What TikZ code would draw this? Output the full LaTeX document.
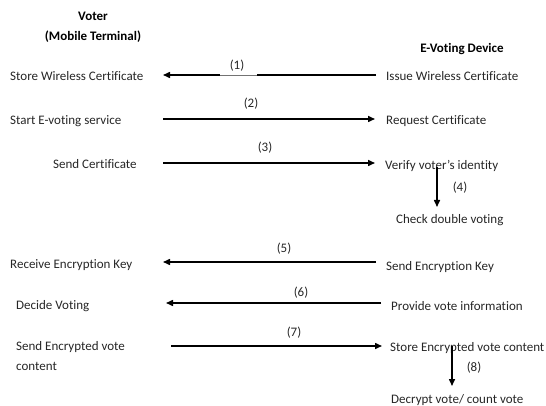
\documentclass[tikz,border=0pt]{standalone}
\usepackage{fontspec}
\setmainfont[Ligatures=CommonOff]{Carlito}
\usetikzlibrary{arrows.meta}
\begin{document}
\begin{tikzpicture}[x=1pt,y=1pt,
  lbl/.style={anchor=base west,inner sep=0pt,font=\fontsize{13}{20}\selectfont,text=black!85},
  hdr/.style={anchor=base,inner sep=0pt,font=\fontsize{13}{20}\selectfont\bfseries},
  num/.style={anchor=base,inner sep=0pt,font=\fontsize{13}{20}\selectfont,text=black!85},
  msg/.style={line width=1.5pt,-{Triangle[length=7pt,width=6pt]}}]
\useasboundingbox (0,0) rectangle (546,-406);
% headers
\node[hdr] (voter) at (93,-21) {Voter};
\node[hdr] (mobile) at (93,-41) {(Mobile Terminal)};
\node[hdr] (dev) at (462,-53) {E-Voting Device};
% left texts
\node[lbl] (store) at (10,-81) {Store Wireless Certificate};
\node[lbl] (start) at (10,-125) {Start E-voting service};
\node[lbl] (send) at (53,-169) {Send Certificate};
\node[lbl] (recv) at (10,-268) {Receive Encryption Key};
\node[lbl] (decide) at (16,-309) {Decide Voting};
\node[lbl,align=left] (sendenc) at (16,-370) {Send Encrypted vote\\content};
% right texts
\node[lbl] (issue) at (386,-81) {Issue Wireless Certificate};
\node[lbl] (req) at (386,-125) {Request Certificate};
\node[lbl] (verify) at (385,-170) {Verify voter's identity};
\node[lbl] (check) at (396,-224) {Check double voting};
\node[lbl] (sendkey) at (386,-270) {Send Encryption Key};
\node[lbl] (provide) at (391,-310) {Provide vote information};
\node[lbl] (storeenc) at (390,-351) {Store Encrypted vote content};
\node[lbl] (decrypt) at (391,-403) {Decrypt vote/ count vote};
% coordinates of connector ends
\coordinate (l1) at (163,-75);
\coordinate (r1) at (376,-75);
\coordinate (l2) at (163,-119);
\coordinate (r2) at (375,-119);
\coordinate (l3) at (163,-163);
\coordinate (r3) at (375,-163);
\coordinate (v4a) at (437,-167);
\coordinate (v4b) at (437,-207);
\coordinate (l5) at (163,-262);
\coordinate (r5) at (376,-262);
\coordinate (l6) at (166,-303);
\coordinate (r6) at (381,-303);
\coordinate (l7) at (171,-346);
\coordinate (r7) at (382,-346);
\coordinate (v8a) at (452,-346);
\coordinate (v8b) at (452,-386);
% connectors
\draw[msg] (r1) -- (l1);
\draw[white,line width=2pt] (220,-75) -- (257,-75);
\draw[black!55,line width=0.6pt] (220,-75) -- (257,-75);
\draw[msg] (l2) -- (r2);
\draw[msg] (l3) -- (r3);
\draw[msg] (v4a) -- (v4b);
\draw[msg] (r5) -- (l5);
\draw[msg] (r6) -- (l6);
\draw[msg] (l7) -- (r7);
\draw[msg] (v8a) -- (v8b);
% step numbers
\node[num] (n1) at (237,-70) {(1)};
\node[num] (n2) at (251,-108) {(2)};
\node[num] (n3) at (265,-152) {(3)};
\node[num] (n4) at (460,-192) {(4)};
\node[num] (n5) at (284,-252) {(5)};
\node[num] (n6) at (301,-296) {(6)};
\node[num] (n7) at (294,-336) {(7)};
\node[num] (n8) at (474,-371) {(8)};
\end{tikzpicture}
\end{document}
